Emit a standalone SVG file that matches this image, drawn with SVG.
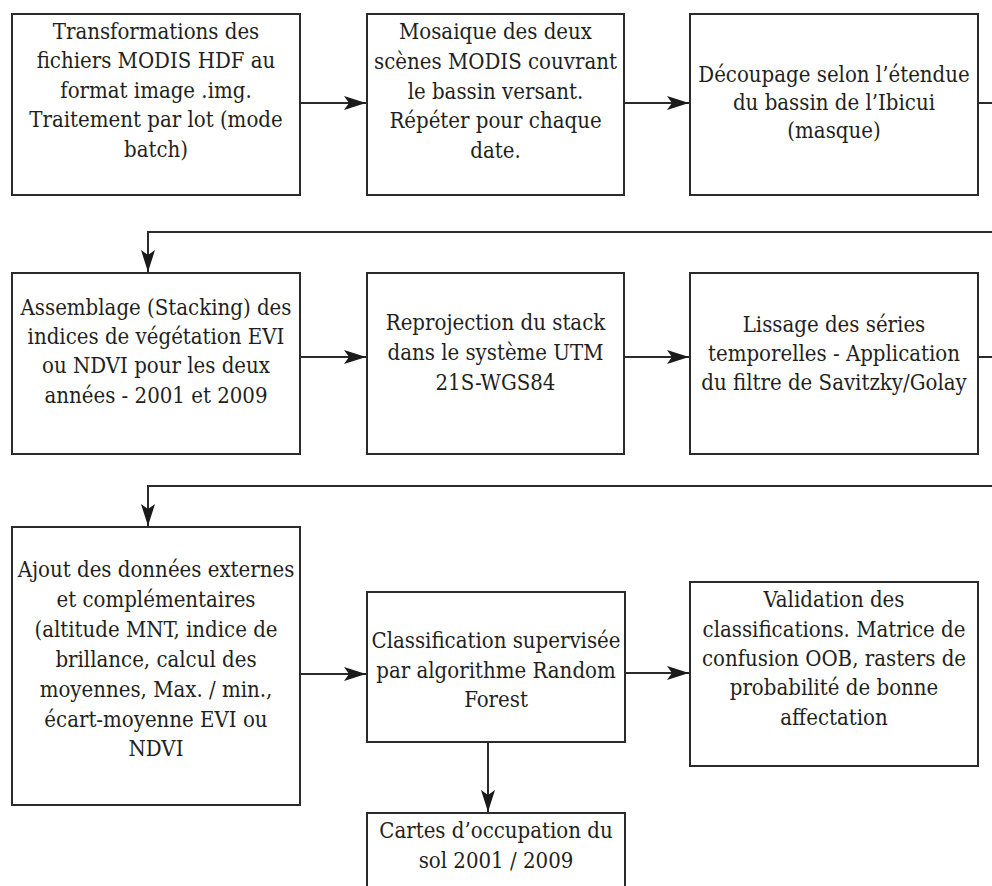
<svg xmlns="http://www.w3.org/2000/svg" width="992" height="886" viewBox="0 0 992 886">
<style>
.box{fill:#fff;stroke:#2b2b2b;stroke-width:2}
.t{font-family:'DejaVu Serif Condensed','DejaVu Serif',serif;font-stretch:condensed;font-size:22px;fill:#231f20;text-anchor:middle}
.c{fill:none;stroke:#2b2b2b;stroke-width:2}
</style>
<defs>
<marker id="ah" markerUnits="userSpaceOnUse" markerWidth="24" markerHeight="16" refX="22" refY="7" orient="auto">
<path d="M0,0 L22,7 L0,14 L5,7 z" fill="#1a1a1a"/>
</marker>
</defs>
<rect width="992" height="886" fill="#fff"/>
<g id="connectors">
<path class="c" d="M300,103 H366" marker-end="url(#ah)"/>
<path class="c" d="M624,103 H689" marker-end="url(#ah)"/>
<path class="c" d="M978,103 H1010 V232 H148 V272" marker-end="url(#ah)"/>
<path class="c" d="M300,357 H366" marker-end="url(#ah)"/>
<path class="c" d="M624,357 H689" marker-end="url(#ah)"/>
<path class="c" d="M978,357 H1010 V486 H148 V526" marker-end="url(#ah)"/>
<path class="c" d="M300,674 H366" marker-end="url(#ah)"/>
<path class="c" d="M625,673 H689" marker-end="url(#ah)"/>
<path class="c" d="M488,742 V812" marker-end="url(#ah)"/>
</g>
<g id="n1">
<rect class="box" x="12" y="14" width="288" height="181"/>
<text class="t"><tspan x="156" y="39">Transformations des</tspan><tspan x="156" y="68">fichiers MODIS HDF au</tspan><tspan x="156" y="98">format image .img.</tspan><tspan x="156" y="127">Traitement par lot (mode</tspan><tspan x="156" y="157">batch)</tspan></text>
</g>
<g id="n2">
<rect class="box" x="367" y="14" width="257" height="181"/>
<text class="t"><tspan x="495.5" y="39">Mosaique des deux</tspan><tspan x="495.5" y="69">scènes MODIS couvrant</tspan><tspan x="495.5" y="99">le bassin versant.</tspan><tspan x="495.5" y="128">Répéter pour chaque</tspan><tspan x="495.5" y="158">date.</tspan></text>
</g>
<g id="n3">
<rect class="box" x="690" y="14" width="288" height="181"/>
<text class="t"><tspan x="834" y="82">Découpage selon l’étendue</tspan><tspan x="834" y="110">du bassin de l’Ibicui</tspan><tspan x="834" y="138">(masque)</tspan></text>
</g>
<g id="n4">
<rect class="box" x="12" y="273" width="288" height="181"/>
<text class="t"><tspan x="156" y="315">Assemblage (Stacking) des</tspan><tspan x="156" y="344">indices de végétation EVI</tspan><tspan x="156" y="373">ou NDVI pour les deux</tspan><tspan x="156" y="403">années - 2001 et 2009</tspan></text>
</g>
<g id="n5">
<rect class="box" x="367" y="273" width="257" height="181"/>
<text class="t"><tspan x="495.5" y="330">Reprojection du stack</tspan><tspan x="495.5" y="360">dans le système UTM</tspan><tspan x="495.5" y="390">21S-WGS84</tspan></text>
</g>
<g id="n6">
<rect class="box" x="690" y="273" width="288" height="181"/>
<text class="t"><tspan x="834" y="332">Lissage des séries</tspan><tspan x="834" y="361">temporelles - Application</tspan><tspan x="834" y="390">du filtre de Savitzky/Golay</tspan></text>
</g>
<g id="n7">
<rect class="box" x="12" y="527" width="288" height="278"/>
<text class="t"><tspan x="156" y="577">Ajout des données externes</tspan><tspan x="156" y="607">et complémentaires</tspan><tspan x="156" y="637">(altitude MNT, indice de</tspan><tspan x="156" y="667">brillance, calcul des</tspan><tspan x="156" y="697">moyennes, Max. / min.,</tspan><tspan x="156" y="727">écart-moyenne EVI ou</tspan><tspan x="156" y="756">NDVI</tspan></text>
</g>
<g id="n8">
<rect class="box" x="367" y="592" width="258" height="150"/>
<text class="t"><tspan x="496" y="648">Classification supervisée</tspan><tspan x="496" y="678">par algorithme Random</tspan><tspan x="496" y="707">Forest</tspan></text>
</g>
<g id="n9">
<rect class="box" x="690" y="582" width="288" height="184"/>
<text class="t"><tspan x="834" y="607">Validation des</tspan><tspan x="834" y="637">classifications. Matrice de</tspan><tspan x="834" y="666">confusion OOB, rasters de</tspan><tspan x="834" y="695">probabilité de bonne</tspan><tspan x="834" y="725">affectation</tspan></text>
</g>
<g id="n10">
<rect class="box" x="367" y="813" width="258" height="100"/>
<text class="t"><tspan x="496" y="838">Cartes d’occupation du</tspan><tspan x="496" y="868">sol 2001 / 2009</tspan></text>
</g>
</svg>
